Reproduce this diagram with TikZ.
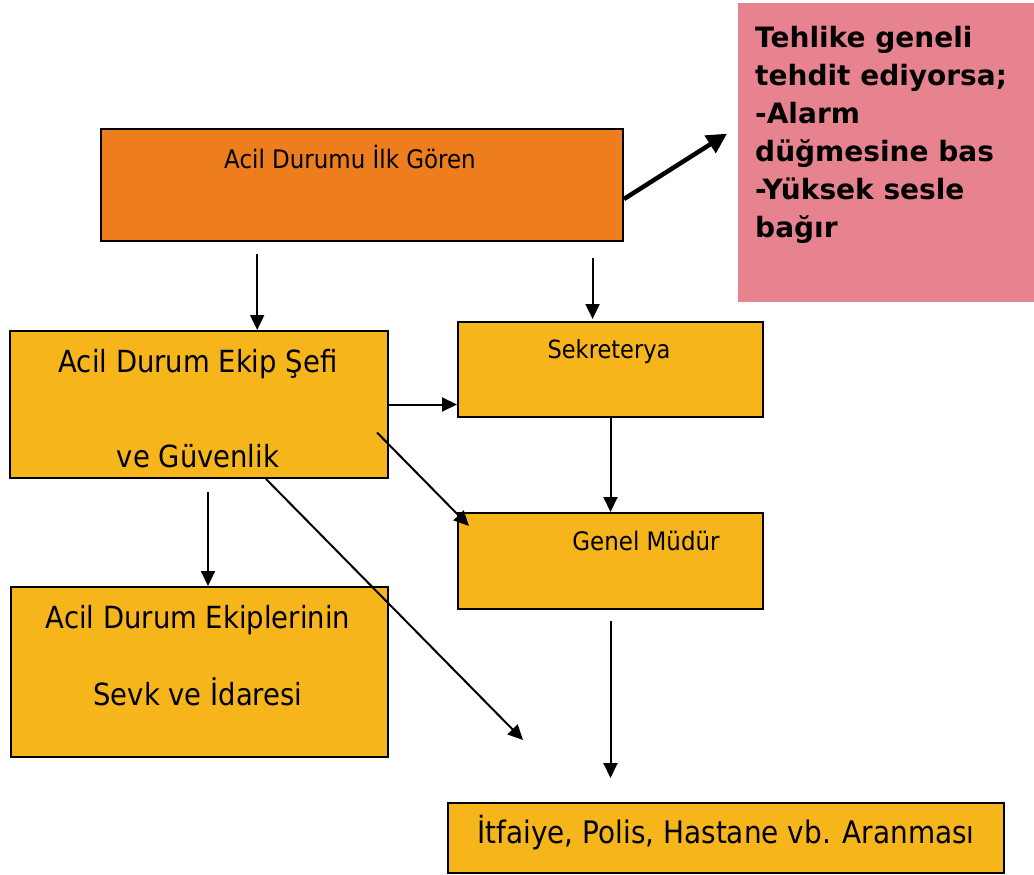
\documentclass[tikz,border=0pt]{standalone}
\usepackage{fontspec}
\setmainfont[FakeStretch=0.9]{DejaVu Sans}
\newfontfamily\widefont{DejaVu Sans}
\usetikzlibrary{arrows.meta,calc,positioning}
\definecolor{boxyellow}{HTML}{F5B51B}
\definecolor{boxorange}{HTML}{EE7D1E}
\definecolor{boxpink}{HTML}{E6838F}
\def\fs(#1){\fontsize{#1}{#1}\selectfont}

\begin{document}
\begin{tikzpicture}[x=1pt,y=-1pt] %pixel units, y runs down
\tikzset{ybox/.style={draw,line width=2pt,fill=boxyellow,anchor=north west,inner sep=0pt},
  txt/.style={anchor=base,inner sep=0pt},
  arr/.style={-{Triangle[length=15pt,width=14pt]},line width=2pt}}
\useasboundingbox (0,0) rectangle (1034,875);

\node (first) at (100,128) [ybox,fill=boxorange,minimum width=522,minimum height=112] {};
\node (pink) at (738,3) [anchor=north west,fill=boxpink,minimum width=296,minimum height=299,inner sep=0pt] {};
\node (sefi) at (9,330) [ybox,minimum width=378,minimum height=147] {};
\node (sekr) at (457,321) [ybox,minimum width=305,minimum height=95] {};
\node (genel) at (457,512) [ybox,minimum width=305,minimum height=96] {};
\node (ekip) at (10,586) [ybox,minimum width=377,minimum height=170] {};
\node (itf) at (447,802) [ybox,minimum width=556,minimum height=70] {};

\node (first-t) at (350,168) [txt] {\fs(25.5)Acil Durumu İlk Gören};
\node (pink-t) at (755,26) [anchor=north west,inner sep=0pt,align=left,font=\widefont\fontsize{28}{38}\selectfont\bfseries]
  {Tehlike geneli\\tehdit ediyorsa;\\-Alarm\\düğmesine bas\\-Yüksek sesle\\bağır};
\node (sefi-t1) at (198,372) [txt] {\fs(30.5)Acil Durum Ekip Şefi};
\node (sefi-t2) at (198,467) [txt] {\fs(30.5)ve Güvenlik};
\node (sekr-t) at (609,358) [txt] {\fs(25)Sekreterya};
\node (genel-t) at (646,550) [txt] {\fs(25.5)Genel Müdür};
\node (ekip-t1) at (198,628) [txt] {\fs(30.5)Acil Durum Ekiplerinin};
\node (ekip-t2) at (198,705) [txt] {\fs(30.5)Sevk ve İdaresi};
\node (itf-t) at (726,843) [txt] {\fs(31)İtfaiye, Polis, Hastane vb. Aranması};

\draw[arr,line width=4.5pt,-{Triangle[length=20pt,width=20pt]}] ($(first.east)+(0,14)$) -- ($(pink.west)+(-11,-19)$);
\draw[arr,shorten <=12pt] ($(first.south west)!.3!(first.south east)$) coordinate (a1) -- (a1 |- sefi.north);
\draw[arr,shorten <=16pt,shorten >=2pt] ($(first.south west)!.94!(first.south east)$) coordinate (a2) -- (a2 |- sekr.north);
\draw[arr] (sefi.east) -- (sefi.east -| sekr.west);
\draw[arr] ($(sefi.east)+(-12,28)$) -- ($(genel.north west)+(12,14)$);
\draw[arr] (sekr) -- (genel);
\draw[arr,shorten <=13pt] ($(sefi.south)+(9,0)$) coordinate (a6) -- (a6 |- ekip.north);
\draw[arr] ($(sefi.south)+(67,0)$) -- ($(itf.north west)+(76,-62)$);
\draw[arr,shorten <=11pt,shorten >=24pt] (genel.south -| sekr) -- (sekr |- itf.north);
\end{tikzpicture}
\end{document}
